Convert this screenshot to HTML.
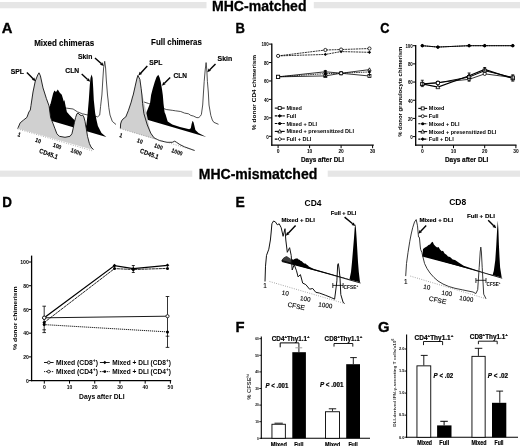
<!DOCTYPE html>
<html><head><meta charset="utf-8"><style>
html,body{margin:0;padding:0;background:#fff;}
body{width:520px;height:446px;overflow:hidden;}
svg{display:block;font-family:"Liberation Sans", sans-serif;filter:grayscale(100%);}
</style></head><body>
<svg width="520" height="446" viewBox="0 0 520 446">
<rect width="520" height="446" fill="#fff"/>
<rect x="0.00" y="2.00" width="206.50" height="6.30" fill="#e6e6e6" stroke="none" stroke-width="1"/>
<rect x="313.80" y="2.00" width="206.20" height="6.30" fill="#e6e6e6" stroke="none" stroke-width="1"/>
<text x="212.00" y="10.60" font-size="14" font-weight="bold" fill="#000" textLength="94.50" lengthAdjust="spacingAndGlyphs" stroke="#000" stroke-width="0.3">MHC-matched</text>
<rect x="0.00" y="170.60" width="192.30" height="6.20" fill="#e6e6e6" stroke="none" stroke-width="1"/>
<rect x="327.70" y="170.60" width="192.30" height="6.20" fill="#e6e6e6" stroke="none" stroke-width="1"/>
<text x="198.70" y="178.50" font-size="14" font-weight="bold" fill="#000" textLength="118.60" lengthAdjust="spacingAndGlyphs" stroke="#000" stroke-width="0.3">MHC-mismatched</text>
<text x="1.80" y="32.80" font-size="14.8" font-weight="bold" fill="#000" stroke="#000" stroke-width="0.35">A</text>
<text x="235.40" y="32.80" font-size="14.8" font-weight="bold" fill="#000" textLength="9.40" lengthAdjust="spacingAndGlyphs" stroke="#000" stroke-width="0.35">B</text>
<text x="380.20" y="32.60" font-size="14.8" font-weight="bold" fill="#000" textLength="9.20" lengthAdjust="spacingAndGlyphs" stroke="#000" stroke-width="0.35">C</text>
<text x="2.20" y="207.40" font-size="14.8" font-weight="bold" fill="#000" textLength="9.70" lengthAdjust="spacingAndGlyphs" stroke="#000" stroke-width="0.35">D</text>
<text x="235.40" y="207.30" font-size="14.8" font-weight="bold" fill="#000" textLength="9.30" lengthAdjust="spacingAndGlyphs" stroke="#000" stroke-width="0.35">E</text>
<text x="235.60" y="331.90" font-size="14.8" font-weight="bold" fill="#000" stroke="#000" stroke-width="0.35">F</text>
<text x="378.00" y="331.60" font-size="14.8" font-weight="bold" fill="#000" stroke="#000" stroke-width="0.35">G</text>
<line x1="271.80" y1="43.60" x2="271.80" y2="145.80" stroke="#000" stroke-width="1.3" />
<line x1="271.20" y1="145.20" x2="373.80" y2="145.20" stroke="#000" stroke-width="1.3" />
<line x1="269.00" y1="136.30" x2="271.80" y2="136.30" stroke="#000" stroke-width="1.0" />
<text x="268.80" y="138.60" font-size="5.4" font-weight="bold" fill="#000" text-anchor="end" textLength="2.50" lengthAdjust="spacingAndGlyphs" >0</text>
<line x1="269.00" y1="117.86" x2="271.80" y2="117.86" stroke="#000" stroke-width="1.0" />
<text x="268.80" y="120.16" font-size="5.4" font-weight="bold" fill="#000" text-anchor="end" textLength="4.90" lengthAdjust="spacingAndGlyphs" >20</text>
<line x1="269.00" y1="99.42" x2="271.80" y2="99.42" stroke="#000" stroke-width="1.0" />
<text x="268.80" y="101.72" font-size="5.4" font-weight="bold" fill="#000" text-anchor="end" textLength="4.90" lengthAdjust="spacingAndGlyphs" >40</text>
<line x1="269.00" y1="80.98" x2="271.80" y2="80.98" stroke="#000" stroke-width="1.0" />
<text x="268.80" y="83.28" font-size="5.4" font-weight="bold" fill="#000" text-anchor="end" textLength="4.90" lengthAdjust="spacingAndGlyphs" >60</text>
<line x1="269.00" y1="62.54" x2="271.80" y2="62.54" stroke="#000" stroke-width="1.0" />
<text x="268.80" y="64.84" font-size="5.4" font-weight="bold" fill="#000" text-anchor="end" textLength="4.90" lengthAdjust="spacingAndGlyphs" >80</text>
<line x1="269.00" y1="44.10" x2="271.80" y2="44.10" stroke="#000" stroke-width="1.0" />
<text x="268.80" y="46.40" font-size="5.4" font-weight="bold" fill="#000" text-anchor="end" textLength="7.40" lengthAdjust="spacingAndGlyphs" >100</text>
<line x1="278.10" y1="145.20" x2="278.10" y2="148.20" stroke="#000" stroke-width="1.0" />
<text x="278.10" y="153.40" font-size="6.0" font-weight="bold" fill="#000" text-anchor="middle" textLength="2.80" lengthAdjust="spacingAndGlyphs" >0</text>
<line x1="309.60" y1="145.20" x2="309.60" y2="148.20" stroke="#000" stroke-width="1.0" />
<text x="309.60" y="153.40" font-size="6.0" font-weight="bold" fill="#000" text-anchor="middle" textLength="5.40" lengthAdjust="spacingAndGlyphs" >10</text>
<line x1="341.10" y1="145.20" x2="341.10" y2="148.20" stroke="#000" stroke-width="1.0" />
<text x="341.10" y="153.40" font-size="6.0" font-weight="bold" fill="#000" text-anchor="middle" textLength="5.40" lengthAdjust="spacingAndGlyphs" >20</text>
<line x1="372.60" y1="145.20" x2="372.60" y2="148.20" stroke="#000" stroke-width="1.0" />
<text x="372.60" y="153.40" font-size="6.0" font-weight="bold" fill="#000" text-anchor="middle" textLength="5.40" lengthAdjust="spacingAndGlyphs" >30</text>
<text x="301.00" y="162.10" font-size="7.2" font-weight="bold" fill="#000" textLength="43.00" lengthAdjust="spacingAndGlyphs" stroke="#000" stroke-width="0.15">Days after DLI</text>
<text x="256.40" y="92.50" font-size="6.0" font-weight="bold" fill="#000" text-anchor="middle" textLength="75.30" lengthAdjust="spacingAndGlyphs" transform="rotate(-90 256.40 92.50)" >% donor CD4 chimerism</text>
<path d="M278.10,55.90 L325.35,54.43 L341.10,51.57 L369.45,52.31" fill="none" stroke="#000" stroke-width="0.8" stroke-dasharray="2,0.7"/>
<path d="M278.10,54.22 L279.78,55.90 L278.10,57.58 L276.42,55.90 Z" fill="#000" stroke="none" stroke-width="1" stroke-linejoin="round" />
<path d="M325.35,52.75 L327.03,54.43 L325.35,56.11 L323.67,54.43 Z" fill="#000" stroke="none" stroke-width="1" stroke-linejoin="round" />
<path d="M341.10,49.89 L342.78,51.57 L341.10,53.25 L339.42,51.57 Z" fill="#000" stroke="none" stroke-width="1" stroke-linejoin="round" />
<path d="M369.45,50.63 L371.13,52.31 L369.45,53.99 L367.77,52.31 Z" fill="#000" stroke="none" stroke-width="1" stroke-linejoin="round" />
<path d="M278.10,55.90 L325.35,50.00 L341.10,49.54 L369.45,48.53" fill="none" stroke="#000" stroke-width="0.8" stroke-dasharray="2,0.7"/>
<circle cx="278.10" cy="55.90" r="1.60" fill="#fff" stroke="#000" stroke-width="0.8"/>
<circle cx="325.35" cy="50.00" r="1.60" fill="#fff" stroke="#000" stroke-width="0.8"/>
<circle cx="341.10" cy="49.54" r="1.60" fill="#fff" stroke="#000" stroke-width="0.8"/>
<circle cx="369.45" cy="48.53" r="1.60" fill="#fff" stroke="#000" stroke-width="0.8"/>
<path d="M278.10,76.83 L325.35,75.91 L341.10,73.24 L369.45,76.00" fill="none" stroke="#000" stroke-width="0.8"/>
<rect x="276.60" y="75.33" width="3.00" height="3.00" fill="#fff" stroke="#000" stroke-width="0.8"/>
<rect x="323.85" y="74.41" width="3.00" height="3.00" fill="#fff" stroke="#000" stroke-width="0.8"/>
<rect x="339.60" y="71.74" width="3.00" height="3.00" fill="#fff" stroke="#000" stroke-width="0.8"/>
<rect x="367.95" y="74.50" width="3.00" height="3.00" fill="#fff" stroke="#000" stroke-width="0.8"/>
<path d="M278.10,76.83 L325.35,71.76 L341.10,73.24 L369.45,69.64" fill="none" stroke="#000" stroke-width="0.8"/>
<path d="M278.10,75.01 L279.78,78.23 L276.42,78.23 Z" fill="#fff" stroke="#000" stroke-width="0.8" stroke-linejoin="round" />
<path d="M325.35,69.94 L327.03,73.16 L323.67,73.16 Z" fill="#fff" stroke="#000" stroke-width="0.8" stroke-linejoin="round" />
<path d="M341.10,71.42 L342.78,74.64 L339.42,74.64 Z" fill="#fff" stroke="#000" stroke-width="0.8" stroke-linejoin="round" />
<path d="M369.45,67.82 L371.13,71.04 L367.77,71.04 Z" fill="#fff" stroke="#000" stroke-width="0.8" stroke-linejoin="round" />
<path d="M278.10,76.83 L325.35,73.60 L341.10,73.24 L369.45,71.94" fill="none" stroke="#000" stroke-width="0.8" stroke-dasharray="1.5,0.8"/>
<circle cx="278.10" cy="76.83" r="1.30" fill="#000"/>
<circle cx="325.35" cy="73.60" r="1.30" fill="#000"/>
<circle cx="341.10" cy="73.24" r="1.30" fill="#000"/>
<circle cx="369.45" cy="71.94" r="1.30" fill="#000"/>
<circle cx="341.10" cy="73.24" r="1.60" fill="#fff" stroke="#000" stroke-width="0.8"/>
<line x1="325.35" y1="70.80" x2="325.35" y2="76.40" stroke="#000" stroke-width="1.2" />
<line x1="323.75" y1="70.80" x2="326.95" y2="70.80" stroke="#000" stroke-width="1.0" />
<line x1="323.75" y1="76.40" x2="326.95" y2="76.40" stroke="#000" stroke-width="1.0" />
<line x1="369.45" y1="70.50" x2="369.45" y2="76.50" stroke="#000" stroke-width="0.9" />
<rect x="276.50" y="75.23" width="3.20" height="3.20" fill="#fff" stroke="#000" stroke-width="0.8"/>
<line x1="274.8" y1="108.10" x2="284.7" y2="108.10" stroke="#000" stroke-width="1.1"/>
<rect x="278.20" y="106.60" width="3.00" height="3.00" fill="#fff" stroke="#000" stroke-width="0.8"/>
<text x="286.40" y="110.10" font-size="5.5" font-weight="bold" fill="#000" >Mixed</text>
<line x1="274.8" y1="115.90" x2="284.7" y2="115.90" stroke="#000" stroke-width="1.1" stroke-dasharray="2.2,0.6"/>
<path d="M279.70,114.10 L281.50,115.90 L279.70,117.70 L277.90,115.90 Z" fill="#000" stroke="none" stroke-width="1" stroke-linejoin="round" />
<text x="286.40" y="117.90" font-size="5.5" font-weight="bold" fill="#000" >Full</text>
<line x1="274.8" y1="123.50" x2="284.7" y2="123.50" stroke="#000" stroke-width="1.1" stroke-dasharray="2.2,0.6"/>
<circle cx="279.70" cy="123.50" r="1.50" fill="#000"/>
<text x="286.40" y="125.50" font-size="5.5" font-weight="bold" fill="#000" >Mixed + DLI</text>
<line x1="274.8" y1="131.40" x2="284.7" y2="131.40" stroke="#000" stroke-width="1.1"/>
<path d="M279.70,129.45 L281.50,132.90 L277.90,132.90 Z" fill="#fff" stroke="#000" stroke-width="0.8" stroke-linejoin="round" />
<text x="286.40" y="133.40" font-size="5.5" font-weight="bold" fill="#000" textLength="67.60" lengthAdjust="spacingAndGlyphs" >Mixed + presensitized DLI</text>
<line x1="274.8" y1="139.10" x2="284.7" y2="139.10" stroke="#000" stroke-width="1.1" stroke-dasharray="2.2,0.6"/>
<path d="M279.70,137.30 L281.50,139.10 L279.70,140.90 L277.90,139.10 Z" fill="#fff" stroke="#000" stroke-width="0.8" stroke-linejoin="round" />
<text x="286.40" y="141.10" font-size="5.5" font-weight="bold" fill="#000" >Full + DLI</text>
<line x1="415.70" y1="45.00" x2="415.70" y2="145.80" stroke="#000" stroke-width="1.3" />
<line x1="415.10" y1="145.20" x2="516.50" y2="145.20" stroke="#000" stroke-width="1.3" />
<line x1="412.90" y1="136.60" x2="415.70" y2="136.60" stroke="#000" stroke-width="1.0" />
<text x="412.80" y="138.90" font-size="5.4" font-weight="bold" fill="#000" text-anchor="end" textLength="2.50" lengthAdjust="spacingAndGlyphs" >0</text>
<line x1="412.90" y1="118.42" x2="415.70" y2="118.42" stroke="#000" stroke-width="1.0" />
<text x="412.80" y="120.72" font-size="5.4" font-weight="bold" fill="#000" text-anchor="end" textLength="4.90" lengthAdjust="spacingAndGlyphs" >20</text>
<line x1="412.90" y1="100.24" x2="415.70" y2="100.24" stroke="#000" stroke-width="1.0" />
<text x="412.80" y="102.54" font-size="5.4" font-weight="bold" fill="#000" text-anchor="end" textLength="4.90" lengthAdjust="spacingAndGlyphs" >40</text>
<line x1="412.90" y1="82.06" x2="415.70" y2="82.06" stroke="#000" stroke-width="1.0" />
<text x="412.80" y="84.36" font-size="5.4" font-weight="bold" fill="#000" text-anchor="end" textLength="4.90" lengthAdjust="spacingAndGlyphs" >60</text>
<line x1="412.90" y1="63.88" x2="415.70" y2="63.88" stroke="#000" stroke-width="1.0" />
<text x="412.80" y="66.18" font-size="5.4" font-weight="bold" fill="#000" text-anchor="end" textLength="4.90" lengthAdjust="spacingAndGlyphs" >80</text>
<line x1="412.90" y1="45.70" x2="415.70" y2="45.70" stroke="#000" stroke-width="1.0" />
<text x="412.80" y="48.00" font-size="5.4" font-weight="bold" fill="#000" text-anchor="end" textLength="7.40" lengthAdjust="spacingAndGlyphs" >100</text>
<line x1="422.30" y1="145.20" x2="422.30" y2="148.20" stroke="#000" stroke-width="1.0" />
<text x="422.30" y="153.40" font-size="6.0" font-weight="bold" fill="#000" text-anchor="middle" textLength="2.80" lengthAdjust="spacingAndGlyphs" >0</text>
<line x1="453.50" y1="145.20" x2="453.50" y2="148.20" stroke="#000" stroke-width="1.0" />
<text x="453.50" y="153.40" font-size="6.0" font-weight="bold" fill="#000" text-anchor="middle" textLength="5.40" lengthAdjust="spacingAndGlyphs" >10</text>
<line x1="484.70" y1="145.20" x2="484.70" y2="148.20" stroke="#000" stroke-width="1.0" />
<text x="484.70" y="153.40" font-size="6.0" font-weight="bold" fill="#000" text-anchor="middle" textLength="5.40" lengthAdjust="spacingAndGlyphs" >20</text>
<line x1="515.90" y1="145.20" x2="515.90" y2="148.20" stroke="#000" stroke-width="1.0" />
<text x="515.90" y="153.40" font-size="6.0" font-weight="bold" fill="#000" text-anchor="middle" textLength="5.40" lengthAdjust="spacingAndGlyphs" >30</text>
<text x="444.90" y="162.00" font-size="7.2" font-weight="bold" fill="#000" textLength="43.40" lengthAdjust="spacingAndGlyphs" stroke="#000" stroke-width="0.15">Days after DLI</text>
<text x="401.90" y="91.80" font-size="6.0" font-weight="bold" fill="#000" text-anchor="middle" textLength="90.00" lengthAdjust="spacingAndGlyphs" transform="rotate(-90 401.90 91.80)" >% donor granulocyte chimerism</text>
<path d="M422.30,45.70 L437.90,47.06 L469.10,45.70 L484.70,45.70 L512.78,45.70" fill="none" stroke="#000" stroke-width="0.9" stroke-dasharray="1.5,0.8"/>
<circle cx="422.30" cy="45.70" r="1.60" fill="#000"/>
<circle cx="437.90" cy="47.06" r="1.60" fill="#000"/>
<circle cx="469.10" cy="45.70" r="1.60" fill="#000"/>
<circle cx="484.70" cy="45.70" r="1.60" fill="#000"/>
<circle cx="512.78" cy="45.70" r="1.60" fill="#000"/>
<path d="M422.30,45.70 L437.90,47.06 L469.10,45.70 L484.70,45.70 L512.78,45.70" fill="none" stroke="#000" stroke-width="0.9"/>
<path d="M422.30,43.78 L424.22,45.70 L422.30,47.62 L420.38,45.70 Z" fill="#000" stroke="none" stroke-width="1" stroke-linejoin="round" />
<path d="M437.90,45.14 L439.82,47.06 L437.90,48.98 L435.98,47.06 Z" fill="#000" stroke="none" stroke-width="1" stroke-linejoin="round" />
<path d="M469.10,43.78 L471.02,45.70 L469.10,47.62 L467.18,45.70 Z" fill="#000" stroke="none" stroke-width="1" stroke-linejoin="round" />
<path d="M484.70,43.78 L486.62,45.70 L484.70,47.62 L482.78,45.70 Z" fill="#000" stroke="none" stroke-width="1" stroke-linejoin="round" />
<path d="M512.78,43.78 L514.70,45.70 L512.78,47.62 L510.86,45.70 Z" fill="#000" stroke="none" stroke-width="1" stroke-linejoin="round" />
<path d="M422.30,83.88 L437.90,82.51 L469.10,79.33 L484.70,73.88 L512.78,77.51" fill="none" stroke="#000" stroke-width="0.8"/>
<circle cx="422.30" cy="83.88" r="1.60" fill="#fff" stroke="#000" stroke-width="0.8"/>
<circle cx="437.90" cy="82.51" r="1.60" fill="#fff" stroke="#000" stroke-width="0.8"/>
<circle cx="469.10" cy="79.33" r="1.60" fill="#fff" stroke="#000" stroke-width="0.8"/>
<circle cx="484.70" cy="73.88" r="1.60" fill="#fff" stroke="#000" stroke-width="0.8"/>
<circle cx="512.78" cy="77.51" r="1.60" fill="#fff" stroke="#000" stroke-width="0.8"/>
<path d="M422.30,83.88 L437.90,87.06 L469.10,75.70 L484.70,69.33 L512.78,78.42" fill="none" stroke="#000" stroke-width="1.2"/>
<path d="M422.30,81.80 L424.22,85.48 L420.38,85.48 Z" fill="#fff" stroke="#000" stroke-width="0.8" stroke-linejoin="round" />
<path d="M437.90,84.98 L439.82,88.66 L435.98,88.66 Z" fill="#fff" stroke="#000" stroke-width="0.8" stroke-linejoin="round" />
<path d="M469.10,73.62 L471.02,77.30 L467.18,77.30 Z" fill="#fff" stroke="#000" stroke-width="0.8" stroke-linejoin="round" />
<path d="M484.70,67.25 L486.62,70.93 L482.78,70.93 Z" fill="#fff" stroke="#000" stroke-width="0.8" stroke-linejoin="round" />
<path d="M512.78,76.34 L514.70,80.02 L510.86,80.02 Z" fill="#fff" stroke="#000" stroke-width="0.8" stroke-linejoin="round" />
<path d="M422.30,83.88 L437.90,82.97 L469.10,77.06 L484.70,70.70 L512.78,77.51" fill="none" stroke="#000" stroke-width="1.0"/>
<rect x="420.70" y="82.28" width="3.20" height="3.20" fill="#fff" stroke="#000" stroke-width="0.8"/>
<rect x="436.30" y="81.37" width="3.20" height="3.20" fill="#fff" stroke="#000" stroke-width="0.8"/>
<rect x="467.50" y="75.46" width="3.20" height="3.20" fill="#fff" stroke="#000" stroke-width="0.8"/>
<rect x="483.10" y="69.10" width="3.20" height="3.20" fill="#fff" stroke="#000" stroke-width="0.8"/>
<rect x="511.18" y="75.91" width="3.20" height="3.20" fill="#fff" stroke="#000" stroke-width="0.8"/>
<line x1="422.30" y1="86.60" x2="422.30" y2="80.24" stroke="#000" stroke-width="0.8" />
<line x1="420.80" y1="86.60" x2="423.80" y2="86.60" stroke="#000" stroke-width="0.8" />
<line x1="420.80" y1="80.24" x2="423.80" y2="80.24" stroke="#000" stroke-width="0.8" />
<line x1="469.10" y1="81.15" x2="469.10" y2="72.97" stroke="#000" stroke-width="0.8" />
<line x1="467.60" y1="81.15" x2="470.60" y2="81.15" stroke="#000" stroke-width="0.8" />
<line x1="467.60" y1="72.97" x2="470.60" y2="72.97" stroke="#000" stroke-width="0.8" />
<line x1="512.78" y1="81.15" x2="512.78" y2="74.79" stroke="#000" stroke-width="0.8" />
<line x1="511.28" y1="81.15" x2="514.28" y2="81.15" stroke="#000" stroke-width="0.8" />
<line x1="511.28" y1="74.79" x2="514.28" y2="74.79" stroke="#000" stroke-width="0.8" />
<line x1="484.70" y1="71.15" x2="484.70" y2="67.52" stroke="#000" stroke-width="0.8" />
<line x1="483.20" y1="71.15" x2="486.20" y2="71.15" stroke="#000" stroke-width="0.8" />
<line x1="483.20" y1="67.52" x2="486.20" y2="67.52" stroke="#000" stroke-width="0.8" />
<line x1="418.3" y1="108.40" x2="427.2" y2="108.40" stroke="#000" stroke-width="1.1"/>
<rect x="421.20" y="106.90" width="3.00" height="3.00" fill="#fff" stroke="#000" stroke-width="0.8"/>
<text x="428.80" y="110.40" font-size="5.5" font-weight="bold" fill="#000" >Mixed</text>
<line x1="418.3" y1="116.20" x2="427.2" y2="116.20" stroke="#000" stroke-width="1.1"/>
<circle cx="422.70" cy="116.20" r="1.50" fill="#fff" stroke="#000" stroke-width="0.8"/>
<text x="428.80" y="118.20" font-size="5.5" font-weight="bold" fill="#000" >Full</text>
<line x1="418.3" y1="123.80" x2="427.2" y2="123.80" stroke="#000" stroke-width="1.1" stroke-dasharray="2.2,0.6"/>
<circle cx="422.70" cy="123.80" r="1.50" fill="#000"/>
<text x="428.80" y="125.80" font-size="5.5" font-weight="bold" fill="#000" >Mixed + DLI</text>
<line x1="418.3" y1="131.60" x2="427.2" y2="131.60" stroke="#000" stroke-width="1.1"/>
<path d="M422.70,129.65 L424.50,133.10 L420.90,133.10 Z" fill="#fff" stroke="#000" stroke-width="0.8" stroke-linejoin="round" />
<text x="428.80" y="133.60" font-size="5.5" font-weight="bold" fill="#000" textLength="67.60" lengthAdjust="spacingAndGlyphs" >Mixed + presensitized DLI</text>
<line x1="418.3" y1="139.10" x2="427.2" y2="139.10" stroke="#000" stroke-width="1.1" stroke-dasharray="2.2,0.6"/>
<path d="M422.70,137.30 L424.50,139.10 L422.70,140.90 L420.90,139.10 Z" fill="#000" stroke="none" stroke-width="1" stroke-linejoin="round" />
<text x="428.80" y="141.10" font-size="5.5" font-weight="bold" fill="#000" >Full + DLI</text>
<line x1="31.60" y1="255.60" x2="31.60" y2="381.20" stroke="#000" stroke-width="1.3" />
<line x1="31.00" y1="380.60" x2="171.20" y2="380.60" stroke="#000" stroke-width="1.3" />
<line x1="28.80" y1="380.60" x2="31.60" y2="380.60" stroke="#000" stroke-width="1.0" />
<text x="28.80" y="382.90" font-size="5.4" font-weight="bold" fill="#000" text-anchor="end" textLength="2.80" lengthAdjust="spacingAndGlyphs" >0</text>
<line x1="28.80" y1="356.88" x2="31.60" y2="356.88" stroke="#000" stroke-width="1.0" />
<text x="28.80" y="359.18" font-size="5.4" font-weight="bold" fill="#000" text-anchor="end" textLength="5.60" lengthAdjust="spacingAndGlyphs" >20</text>
<line x1="28.80" y1="333.16" x2="31.60" y2="333.16" stroke="#000" stroke-width="1.0" />
<text x="28.80" y="335.46" font-size="5.4" font-weight="bold" fill="#000" text-anchor="end" textLength="5.60" lengthAdjust="spacingAndGlyphs" >40</text>
<line x1="28.80" y1="309.44" x2="31.60" y2="309.44" stroke="#000" stroke-width="1.0" />
<text x="28.80" y="311.74" font-size="5.4" font-weight="bold" fill="#000" text-anchor="end" textLength="5.60" lengthAdjust="spacingAndGlyphs" >60</text>
<line x1="28.80" y1="285.72" x2="31.60" y2="285.72" stroke="#000" stroke-width="1.0" />
<text x="28.80" y="288.02" font-size="5.4" font-weight="bold" fill="#000" text-anchor="end" textLength="5.60" lengthAdjust="spacingAndGlyphs" >80</text>
<line x1="28.80" y1="262.00" x2="31.60" y2="262.00" stroke="#000" stroke-width="1.0" />
<text x="28.80" y="264.30" font-size="5.4" font-weight="bold" fill="#000" text-anchor="end" textLength="8.60" lengthAdjust="spacingAndGlyphs" >100</text>
<line x1="44.30" y1="380.60" x2="44.30" y2="383.60" stroke="#000" stroke-width="1.0" />
<text x="44.30" y="389.40" font-size="6.0" font-weight="bold" fill="#000" text-anchor="middle" textLength="2.80" lengthAdjust="spacingAndGlyphs" >0</text>
<line x1="69.52" y1="380.60" x2="69.52" y2="383.60" stroke="#000" stroke-width="1.0" />
<text x="69.52" y="389.40" font-size="6.0" font-weight="bold" fill="#000" text-anchor="middle" textLength="5.60" lengthAdjust="spacingAndGlyphs" >10</text>
<line x1="94.74" y1="380.60" x2="94.74" y2="383.60" stroke="#000" stroke-width="1.0" />
<text x="94.74" y="389.40" font-size="6.0" font-weight="bold" fill="#000" text-anchor="middle" textLength="5.60" lengthAdjust="spacingAndGlyphs" >20</text>
<line x1="119.96" y1="380.60" x2="119.96" y2="383.60" stroke="#000" stroke-width="1.0" />
<text x="119.96" y="389.40" font-size="6.0" font-weight="bold" fill="#000" text-anchor="middle" textLength="5.60" lengthAdjust="spacingAndGlyphs" >30</text>
<line x1="145.18" y1="380.60" x2="145.18" y2="383.60" stroke="#000" stroke-width="1.0" />
<text x="145.18" y="389.40" font-size="6.0" font-weight="bold" fill="#000" text-anchor="middle" textLength="5.60" lengthAdjust="spacingAndGlyphs" >40</text>
<line x1="170.40" y1="380.60" x2="170.40" y2="383.60" stroke="#000" stroke-width="1.0" />
<text x="170.40" y="389.40" font-size="6.0" font-weight="bold" fill="#000" text-anchor="middle" textLength="5.60" lengthAdjust="spacingAndGlyphs" >50</text>
<text x="79.00" y="398.60" font-size="6.3" font-weight="bold" fill="#000" textLength="45.60" lengthAdjust="spacingAndGlyphs" >Days after DLI</text>
<text x="16.80" y="318.20" font-size="6.2" font-weight="bold" fill="#000" text-anchor="middle" textLength="63.70" lengthAdjust="spacingAndGlyphs" transform="rotate(-90 16.80 318.20)" >% donor chimerism</text>
<line x1="44.20" y1="306.20" x2="44.20" y2="332.60" stroke="#000" stroke-width="0.8" />
<line x1="42.40" y1="306.20" x2="46.00" y2="306.20" stroke="#000" stroke-width="0.8" />
<line x1="42.40" y1="332.60" x2="46.00" y2="332.60" stroke="#000" stroke-width="0.8" />
<line x1="42.40" y1="329.80" x2="46.00" y2="329.80" stroke="#000" stroke-width="0.8" />
<line x1="167.50" y1="296.50" x2="167.50" y2="347.40" stroke="#000" stroke-width="0.8" />
<line x1="165.70" y1="296.50" x2="169.30" y2="296.50" stroke="#000" stroke-width="0.8" />
<line x1="165.70" y1="347.40" x2="169.30" y2="347.40" stroke="#000" stroke-width="0.8" />
<line x1="165.70" y1="336.20" x2="169.30" y2="336.20" stroke="#000" stroke-width="0.8" />
<line x1="133.30" y1="265.50" x2="133.30" y2="272.50" stroke="#000" stroke-width="0.8" />
<line x1="131.80" y1="265.50" x2="134.80" y2="265.50" stroke="#000" stroke-width="0.8" />
<line x1="131.80" y1="272.50" x2="134.80" y2="272.50" stroke="#000" stroke-width="0.8" />
<path d="M44.20,317.80 L114.50,265.60 L133.30,268.70 L167.50,265.30" fill="none" stroke="#000" stroke-width="1.3"/>
<path d="M44.20,316.00 L46.00,317.80 L44.20,319.60 L42.40,317.80 Z" fill="#000" stroke="none" stroke-width="1" stroke-linejoin="round" />
<path d="M114.50,263.80 L116.30,265.60 L114.50,267.40 L112.70,265.60 Z" fill="#000" stroke="none" stroke-width="1" stroke-linejoin="round" />
<path d="M133.30,266.90 L135.10,268.70 L133.30,270.50 L131.50,268.70 Z" fill="#000" stroke="none" stroke-width="1" stroke-linejoin="round" />
<path d="M167.50,263.50 L169.30,265.30 L167.50,267.10 L165.70,265.30 Z" fill="#000" stroke="none" stroke-width="1" stroke-linejoin="round" />
<path d="M44.20,322.50 L114.50,268.60 L133.30,269.50 L167.50,268.40" fill="none" stroke="#000" stroke-width="0.85" stroke-dasharray="3,0.5"/>
<circle cx="44.20" cy="322.50" r="1.50" fill="#000"/>
<circle cx="114.50" cy="268.60" r="1.50" fill="#000"/>
<circle cx="133.30" cy="269.50" r="1.50" fill="#000"/>
<circle cx="167.50" cy="268.40" r="1.50" fill="#000"/>
<path d="M44.20,317.80 L167.50,316.20" fill="none" stroke="#000" stroke-width="0.9"/>
<circle cx="44.20" cy="317.80" r="1.60" fill="#fff" stroke="#000" stroke-width="0.8"/>
<circle cx="167.50" cy="316.20" r="1.60" fill="#fff" stroke="#000" stroke-width="0.8"/>
<path d="M44.20,324.60 L167.50,331.90" fill="none" stroke="#000" stroke-width="0.9" stroke-dasharray="1.2,0.8"/>
<circle cx="44.20" cy="324.60" r="1.50" fill="#000"/>
<circle cx="167.50" cy="331.90" r="1.50" fill="#000"/>
<circle cx="44.20" cy="317.80" r="1.70" fill="#fff" stroke="#000" stroke-width="0.8"/>
<line x1="44" y1="362.50" x2="53.6" y2="362.50" stroke="#000" stroke-width="0.9"/>
<circle cx="48.80" cy="362.50" r="1.40" fill="#fff" stroke="#000" stroke-width="0.8"/>
<line x1="44" y1="371.60" x2="53.6" y2="371.60" stroke="#000" stroke-width="0.9" stroke-dasharray="1.2,0.8"/>
<circle cx="48.80" cy="371.60" r="1.40" fill="#fff" stroke="#000" stroke-width="0.8"/>
<line x1="99.9" y1="362.50" x2="109.7" y2="362.50" stroke="#000" stroke-width="0.9"/>
<path d="M104.80,360.82 L106.48,362.50 L104.80,364.18 L103.12,362.50 Z" fill="#000" stroke="none" stroke-width="1" stroke-linejoin="round" />
<line x1="99.9" y1="371.60" x2="109.7" y2="371.60" stroke="#000" stroke-width="0.9" stroke-dasharray="1.5,0.8"/>
<circle cx="104.80" cy="371.60" r="1.40" fill="#000"/>
<text x="55.90" y="364.80" font-size="6.4" font-weight="bold" textLength="42.2" lengthAdjust="spacingAndGlyphs">Mixed (CD8<tspan font-size="4.8" dy="-2.6">+</tspan><tspan dy="2.6">)</tspan></text>
<text x="55.90" y="373.90" font-size="6.4" font-weight="bold" textLength="42.2" lengthAdjust="spacingAndGlyphs">Mixed (CD4<tspan font-size="4.8" dy="-2.6">+</tspan><tspan dy="2.6">)</tspan></text>
<text x="112.20" y="364.80" font-size="6.4" font-weight="bold" textLength="58.8" lengthAdjust="spacingAndGlyphs">Mixed + DLI (CD8<tspan font-size="4.8" dy="-2.6">+</tspan><tspan dy="2.6">)</tspan></text>
<text x="112.20" y="373.90" font-size="6.4" font-weight="bold" textLength="58.8" lengthAdjust="spacingAndGlyphs">Mixed + DLI (CD4<tspan font-size="4.8" dy="-2.6">+</tspan><tspan dy="2.6">)</tspan></text>
<line x1="261.30" y1="336.60" x2="261.30" y2="438.90" stroke="#000" stroke-width="1.1" />
<line x1="260.80" y1="438.30" x2="370.00" y2="438.30" stroke="#000" stroke-width="1.1" />
<line x1="259.30" y1="438.30" x2="261.30" y2="438.30" stroke="#000" stroke-width="0.9" />
<text x="258.90" y="439.60" font-size="3.6" font-weight="bold" fill="#000" text-anchor="end" textLength="1.80" lengthAdjust="spacingAndGlyphs" >0</text>
<line x1="259.30" y1="421.70" x2="261.30" y2="421.70" stroke="#000" stroke-width="0.9" />
<text x="258.90" y="423.00" font-size="3.6" font-weight="bold" fill="#000" text-anchor="end" textLength="3.60" lengthAdjust="spacingAndGlyphs" >10</text>
<line x1="259.30" y1="405.10" x2="261.30" y2="405.10" stroke="#000" stroke-width="0.9" />
<text x="258.90" y="406.40" font-size="3.6" font-weight="bold" fill="#000" text-anchor="end" textLength="3.60" lengthAdjust="spacingAndGlyphs" >20</text>
<line x1="259.30" y1="388.50" x2="261.30" y2="388.50" stroke="#000" stroke-width="0.9" />
<text x="258.90" y="389.80" font-size="3.6" font-weight="bold" fill="#000" text-anchor="end" textLength="3.60" lengthAdjust="spacingAndGlyphs" >30</text>
<line x1="259.30" y1="371.90" x2="261.30" y2="371.90" stroke="#000" stroke-width="0.9" />
<text x="258.90" y="373.20" font-size="3.6" font-weight="bold" fill="#000" text-anchor="end" textLength="3.60" lengthAdjust="spacingAndGlyphs" >40</text>
<line x1="259.30" y1="355.30" x2="261.30" y2="355.30" stroke="#000" stroke-width="0.9" />
<text x="258.90" y="356.60" font-size="3.6" font-weight="bold" fill="#000" text-anchor="end" textLength="3.60" lengthAdjust="spacingAndGlyphs" >50</text>
<line x1="259.30" y1="338.70" x2="261.30" y2="338.70" stroke="#000" stroke-width="0.9" />
<text x="258.90" y="340.00" font-size="3.6" font-weight="bold" fill="#000" text-anchor="end" textLength="3.60" lengthAdjust="spacingAndGlyphs" >60</text>
<rect x="271.95" y="424.25" width="13.40" height="14.05" fill="#fff" stroke="#000" stroke-width="0.9"/>
<line x1="274.50" y1="423.20" x2="282.80" y2="423.20" stroke="#000" stroke-width="0.9" />
<rect x="292.30" y="352.20" width="13.60" height="86.10" fill="#000" stroke="none" stroke-width="1"/>
<line x1="298.90" y1="343.10" x2="298.90" y2="352.20" stroke="#000" stroke-width="0.9" />
<line x1="295.40" y1="347.80" x2="302.20" y2="347.80" stroke="#999" stroke-width="0.9" />
<rect x="325.55" y="411.75" width="13.90" height="26.55" fill="#fff" stroke="#000" stroke-width="0.9"/>
<line x1="332.50" y1="408.80" x2="332.50" y2="411.30" stroke="#000" stroke-width="0.8" />
<line x1="328.80" y1="408.80" x2="336.20" y2="408.80" stroke="#000" stroke-width="0.9" />
<rect x="346.20" y="364.20" width="13.80" height="74.10" fill="#000" stroke="none" stroke-width="1"/>
<line x1="353.30" y1="357.60" x2="353.30" y2="364.20" stroke="#000" stroke-width="0.9" />
<line x1="350.20" y1="357.60" x2="356.80" y2="357.60" stroke="#000" stroke-width="0.9" />
<path d="M280.20,347.30 L280.20,342.90 L298.90,342.90" fill="none" stroke="#000" stroke-width="1.0" stroke-linejoin="round" />
<path d="M334.00,346.60 L334.00,343.50 L352.80,343.50 L352.80,346.60" fill="none" stroke="#000" stroke-width="0.9" stroke-linejoin="round" />
<text x="271.80" y="341.00" font-size="6.3" font-weight="bold" stroke="#000" stroke-width="0.18" textLength="37.7" lengthAdjust="spacingAndGlyphs">CD4<tspan font-size="4.4" dy="-2.6">+</tspan><tspan dy="2.6">Thy1.1</tspan><tspan font-size="4.4" dy="-2.6">+</tspan></text>
<text x="324.60" y="340.70" font-size="6.3" font-weight="bold" stroke="#000" stroke-width="0.18" textLength="37.7" lengthAdjust="spacingAndGlyphs">CD8<tspan font-size="4.4" dy="-2.6">+</tspan><tspan dy="2.6">Thy1.1</tspan><tspan font-size="4.4" dy="-2.6">+</tspan></text>
<text x="265.50" y="387.60" font-size="6.3" font-weight="bold" stroke="#000" stroke-width="0.2" textLength="22.8" lengthAdjust="spacingAndGlyphs"><tspan font-style="italic">P</tspan> &lt; .001</text>
<text x="319.90" y="387.40" font-size="6.3" font-weight="bold" stroke="#000" stroke-width="0.2" textLength="23.5" lengthAdjust="spacingAndGlyphs"><tspan font-style="italic">P</tspan> &lt; .001</text>
<text x="270.80" y="446.60" font-size="6.4" font-weight="bold" fill="#000" textLength="16.10" lengthAdjust="spacingAndGlyphs" stroke="#000" stroke-width="0.2">Mixed</text>
<text x="294.20" y="446.60" font-size="6.4" font-weight="bold" fill="#000" textLength="9.20" lengthAdjust="spacingAndGlyphs" stroke="#000" stroke-width="0.2">Full</text>
<text x="325.10" y="446.60" font-size="6.4" font-weight="bold" fill="#000" textLength="15.20" lengthAdjust="spacingAndGlyphs" stroke="#000" stroke-width="0.2">Mixed</text>
<text x="348.40" y="446.60" font-size="6.4" font-weight="bold" fill="#000" textLength="9.40" lengthAdjust="spacingAndGlyphs" stroke="#000" stroke-width="0.2">Full</text>
<text x="251.0" y="387" font-size="4.8" font-weight="bold" fill="#333" text-anchor="middle" transform="rotate(-90 251.0 387)" textLength="25.6" lengthAdjust="spacingAndGlyphs">% CFSE<tspan font-size="3" dy="-1.6">hi</tspan></text>
<line x1="406.60" y1="334.40" x2="406.60" y2="437.80" stroke="#000" stroke-width="1.1" />
<line x1="406.10" y1="437.30" x2="518.00" y2="437.30" stroke="#000" stroke-width="1.1" />
<line x1="404.60" y1="437.20" x2="406.60" y2="437.20" stroke="#000" stroke-width="0.9" />
<text x="404.40" y="438.50" font-size="3.6" font-weight="bold" fill="#000" text-anchor="end" textLength="5.40" lengthAdjust="spacingAndGlyphs" >0.0</text>
<line x1="404.60" y1="415.15" x2="406.60" y2="415.15" stroke="#000" stroke-width="0.9" />
<text x="404.40" y="416.45" font-size="3.6" font-weight="bold" fill="#000" text-anchor="end" textLength="5.40" lengthAdjust="spacingAndGlyphs" >0.5</text>
<line x1="404.60" y1="393.10" x2="406.60" y2="393.10" stroke="#000" stroke-width="0.9" />
<text x="404.40" y="394.40" font-size="3.6" font-weight="bold" fill="#000" text-anchor="end" textLength="5.40" lengthAdjust="spacingAndGlyphs" >1.0</text>
<line x1="404.60" y1="371.05" x2="406.60" y2="371.05" stroke="#000" stroke-width="0.9" />
<text x="404.40" y="372.35" font-size="3.6" font-weight="bold" fill="#000" text-anchor="end" textLength="5.40" lengthAdjust="spacingAndGlyphs" >1.5</text>
<line x1="404.60" y1="349.00" x2="406.60" y2="349.00" stroke="#000" stroke-width="0.9" />
<text x="404.40" y="350.30" font-size="3.6" font-weight="bold" fill="#000" text-anchor="end" textLength="5.40" lengthAdjust="spacingAndGlyphs" >2.0</text>
<rect x="416.95" y="365.85" width="13.80" height="71.45" fill="#fff" stroke="#000" stroke-width="0.9"/>
<line x1="423.80" y1="355.40" x2="423.80" y2="365.40" stroke="#000" stroke-width="0.9" />
<line x1="420.80" y1="355.40" x2="427.70" y2="355.40" stroke="#000" stroke-width="0.9" />
<rect x="437.10" y="425.40" width="14.40" height="11.90" fill="#000" stroke="none" stroke-width="1"/>
<line x1="444.10" y1="421.30" x2="444.10" y2="425.40" stroke="#000" stroke-width="1.0" />
<line x1="440.30" y1="421.30" x2="447.80" y2="421.30" stroke="#000" stroke-width="1.0" />
<rect x="471.95" y="356.35" width="13.20" height="80.95" fill="#fff" stroke="#000" stroke-width="0.9"/>
<line x1="478.40" y1="348.30" x2="478.40" y2="355.90" stroke="#000" stroke-width="0.9" />
<line x1="474.80" y1="348.30" x2="482.30" y2="348.30" stroke="#000" stroke-width="0.9" />
<rect x="492.00" y="402.80" width="14.30" height="34.50" fill="#000" stroke="none" stroke-width="1"/>
<line x1="499.80" y1="391.10" x2="499.80" y2="402.80" stroke="#000" stroke-width="0.9" />
<line x1="496.30" y1="391.10" x2="503.10" y2="391.10" stroke="#000" stroke-width="0.9" />
<path d="M423.50,345.10 L423.50,341.50 L442.60,341.50 L442.60,345.10" fill="none" stroke="#000" stroke-width="0.9" stroke-linejoin="round" />
<path d="M478.40,344.20 L478.40,341.20 L497.20,341.20 L497.20,344.20" fill="none" stroke="#000" stroke-width="0.9" stroke-linejoin="round" />
<text x="414.60" y="339.50" font-size="6.3" font-weight="bold" stroke="#000" stroke-width="0.18" textLength="38.7" lengthAdjust="spacingAndGlyphs">CD4<tspan font-size="4.4" dy="-2.6">+</tspan><tspan dy="2.6">Thy1.1</tspan><tspan font-size="4.4" dy="-2.6">+</tspan></text>
<text x="469.80" y="338.80" font-size="6.3" font-weight="bold" stroke="#000" stroke-width="0.18" textLength="38.2" lengthAdjust="spacingAndGlyphs">CD8<tspan font-size="4.4" dy="-2.6">+</tspan><tspan dy="2.6">Thy1.1</tspan><tspan font-size="4.4" dy="-2.6">+</tspan></text>
<text x="433.60" y="378.10" font-size="6.3" font-weight="bold" stroke="#000" stroke-width="0.2" textLength="19.7" lengthAdjust="spacingAndGlyphs"><tspan font-style="italic">P</tspan> &lt; .02</text>
<text x="487.70" y="378.10" font-size="6.3" font-weight="bold" stroke="#000" stroke-width="0.2" textLength="20.3" lengthAdjust="spacingAndGlyphs"><tspan font-style="italic">P</tspan> &lt; .02</text>
<text x="417.20" y="445.40" font-size="6.4" font-weight="bold" fill="#000" textLength="14.80" lengthAdjust="spacingAndGlyphs" stroke="#000" stroke-width="0.2">Mixed</text>
<text x="439.30" y="445.40" font-size="6.4" font-weight="bold" fill="#000" textLength="9.90" lengthAdjust="spacingAndGlyphs" stroke="#000" stroke-width="0.2">Full</text>
<text x="471.40" y="445.40" font-size="6.4" font-weight="bold" fill="#000" textLength="15.00" lengthAdjust="spacingAndGlyphs" stroke="#000" stroke-width="0.2">Mixed</text>
<text x="494.60" y="445.40" font-size="6.4" font-weight="bold" fill="#000" textLength="8.90" lengthAdjust="spacingAndGlyphs" stroke="#000" stroke-width="0.2">Full</text>
<text x="395.8" y="382.7" font-size="4.3" font-weight="bold" fill="#333" text-anchor="middle" transform="rotate(-90 395.8 382.7)" textLength="88" lengthAdjust="spacingAndGlyphs">DLI-derived IFN-&#947;-secreting T cells/x10<tspan font-size="3" dy="-1.5">6</tspan></text>
<path d="M50.00,104.50 L58.00,106.30 L66.30,108.10 L73.10,109.00 L77.50,111.90 L82.50,113.80 L86.90,114.80 L92.00,115.80 L95.60,116.30 L97.50,116.90 L99.70,115.10 L100.60,106.30 L101.30,100.00 L101.90,95.00 L102.80,80.00 L103.60,68.00 L104.70,61.30 L105.60,68.00 L106.30,80.00 L107.50,95.00 L108.10,100.00 L108.80,107.50 L110.00,115.00 L112.30,121.40 L116.00,124.50" fill="#fff" stroke="#222" stroke-width="0.8" stroke-linejoin="round" />
<path d="M46.00,106.00 L49.80,106.70 L51.50,100.00 L53.10,93.50 L54.40,90.50 L56.00,92.10 L57.80,89.40 L59.80,92.80 L61.80,94.80 L63.80,101.50 L64.40,100.00 L65.90,107.60 L66.90,111.90 L70.00,115.60 L73.10,118.80 L75.00,120.60 L80.00,124.00 L86.30,125.50 L87.50,115.00 L88.80,100.00 L89.80,85.00 L90.50,78.00 L91.60,74.40 L92.60,78.00 L93.20,88.00 L93.80,100.00 L95.20,113.30 L96.50,120.00 L97.90,125.90 L101.50,133.00 L106.30,136.90 L51.90,121.00 L46.00,119.50 Z" fill="#000" stroke="none" stroke-width="1" stroke-linejoin="round" />
<path d="M17.60,128.50 L18.20,127.50 L20.20,122.80 L23.60,120.00 L26.90,117.40 L28.90,112.00 L30.30,110.00 L31.00,105.40 L33.00,92.00 L35.30,81.00 L37.70,75.00 L39.00,72.80 L40.40,75.80 L43.00,87.90 L46.40,98.60 L49.10,106.00 L50.60,117.50 L53.10,123.80 L55.00,128.80 L56.90,133.80 L59.40,136.30 L65.00,137.30 L70.00,136.30 L71.90,133.80 L73.10,128.80 L74.40,122.50 L75.60,117.50 L76.90,113.80 L78.10,113.10 L80.00,115.00 L81.30,115.60 L82.50,115.00 L83.80,116.90 L85.00,121.30 L86.30,128.80 L87.50,136.30 L89.40,143.50 L91.00,147.00 L93.50,149.60 L93.50,150.10 L17.60,128.50 Z" fill="#d0d0d0" stroke="none" stroke-width="1" stroke-linejoin="round" />
<path d="M17.60,128.50 L18.20,127.50 L20.20,122.80 L23.60,120.00 L26.90,117.40 L28.90,112.00 L30.30,110.00 L31.00,105.40 L33.00,92.00 L35.30,81.00 L37.70,75.00 L39.00,72.80 L40.40,75.80 L43.00,87.90 L46.40,98.60 L49.10,106.00 L50.60,117.50 L53.10,123.80 L55.00,128.80 L56.90,133.80 L59.40,136.30 L65.00,137.30 L70.00,136.30 L71.90,133.80 L73.10,128.80 L74.40,122.50 L75.60,117.50 L76.90,113.80 L78.10,113.10 L80.00,115.00 L81.30,115.60 L82.50,115.00 L83.80,116.90 L85.00,121.30 L86.30,128.80 L87.50,136.30 L89.40,143.50 L91.00,147.00 L93.50,149.60" fill="none" stroke="#111" stroke-width="0.9" stroke-linejoin="round" />
<line x1="17.60" y1="128.90" x2="93.50" y2="151.20" stroke="#777" stroke-width="0.7" stroke-dasharray="0.8,1.6"/>
<text x="18.50" y="136.50" font-size="5.8" font-weight="bold" fill="#000" text-anchor="middle" textLength="2.80" lengthAdjust="spacingAndGlyphs" transform="rotate(20 18.50 136.50)" stroke="#000" stroke-width="0.12">1</text>
<text x="37.50" y="142.60" font-size="5.8" font-weight="bold" fill="#000" text-anchor="middle" textLength="5.80" lengthAdjust="spacingAndGlyphs" transform="rotate(20 37.50 142.60)" stroke="#000" stroke-width="0.12">10</text>
<text x="56.50" y="148.10" font-size="5.8" font-weight="bold" fill="#000" text-anchor="middle" textLength="8.60" lengthAdjust="spacingAndGlyphs" transform="rotate(20 56.50 148.10)" stroke="#000" stroke-width="0.12">100</text>
<text x="75.60" y="153.80" font-size="5.8" font-weight="bold" fill="#000" text-anchor="middle" textLength="11.40" lengthAdjust="spacingAndGlyphs" transform="rotate(20 75.60 153.80)" stroke="#000" stroke-width="0.12">1000</text>
<text x="47.90" y="155.90" font-size="6.4" font-weight="bold" fill="#000" text-anchor="middle" textLength="19.50" lengthAdjust="spacingAndGlyphs" transform="rotate(20 47.90 155.90)" stroke="#000" stroke-width="0.12">CD45.1</text>
<text x="34.20" y="45.90" font-size="8.6" font-weight="bold" fill="#000" textLength="60.00" lengthAdjust="spacingAndGlyphs" stroke="#000" stroke-width="0.12">Mixed chimeras</text>
<text x="10.80" y="73.90" font-size="6.6" font-weight="bold" fill="#000" textLength="13.20" lengthAdjust="spacingAndGlyphs" stroke="#000" stroke-width="0.15">SPL</text>
<text x="65.30" y="73.20" font-size="6.6" font-weight="bold" fill="#000" textLength="13.90" lengthAdjust="spacingAndGlyphs" stroke="#000" stroke-width="0.15">CLN</text>
<text x="78.10" y="58.70" font-size="6.6" font-weight="bold" fill="#000" textLength="14.30" lengthAdjust="spacingAndGlyphs" stroke="#000" stroke-width="0.15">Skin</text>
<line x1="26.90" y1="72.40" x2="33.07" y2="78.64" stroke="#000" stroke-width="1.4" />
<path d="M35.60,81.20 L31.92,79.78 L34.22,77.50 Z" fill="#000" stroke="none" stroke-width="1" stroke-linejoin="round" />
<line x1="81.70" y1="74.10" x2="87.62" y2="79.40" stroke="#000" stroke-width="1.4" />
<path d="M90.30,81.80 L86.54,80.61 L88.70,78.19 Z" fill="#000" stroke="none" stroke-width="1" stroke-linejoin="round" />
<line x1="95.00" y1="57.90" x2="101.15" y2="63.56" stroke="#000" stroke-width="1.4" />
<path d="M103.80,66.00 L100.05,64.75 L102.25,62.37 Z" fill="#000" stroke="none" stroke-width="1" stroke-linejoin="round" />
<path d="M141.50,101.30 L143.30,101.80 L148.60,103.50 L155.00,105.50 L160.00,107.00 L166.20,109.50 L172.80,110.40 L175.40,110.80 L180.70,111.50 L184.60,113.10 L188.50,113.80 L190.80,115.40 L193.30,116.00 L196.90,117.70 L198.80,117.50 L200.30,116.20 L201.40,114.40 L202.70,105.00 L203.50,92.00 L204.20,81.40 L205.20,70.00 L206.10,62.60 L206.80,70.00 L207.40,81.40 L208.30,92.00 L209.00,105.00 L210.80,115.40 L212.30,120.00 L213.80,122.30 L218.50,124.30" fill="#fff" stroke="#222" stroke-width="0.8" stroke-linejoin="round" />
<path d="M143.00,117.00 L145.30,114.90 L147.30,110.20 L150.00,103.50 L151.10,95.00 L152.70,88.80 L154.70,82.10 L156.50,77.00 L158.30,74.70 L159.60,77.50 L160.80,82.10 L162.10,90.00 L162.80,95.00 L163.50,103.50 L164.60,112.30 L165.50,114.20 L167.70,121.50 L172.30,124.60 L180.00,126.90 L189.20,129.20 L190.80,128.30 L191.60,124.00 L192.60,120.80 L193.60,122.50 L194.20,125.00 L195.40,130.00 L198.50,133.10 L206.20,136.90 L143.00,118.50 Z" fill="#000" stroke="none" stroke-width="1" stroke-linejoin="round" />
<path d="M120.40,128.40 L120.60,124.00 L121.50,121.00 L123.10,118.90 L125.80,116.90 L128.50,110.20 L131.20,102.10 L132.50,97.00 L133.20,95.00 L135.20,86.10 L136.80,79.00 L137.90,75.40 L139.90,79.40 L141.20,88.80 L150.70,133.10 L154.00,137.80 L155.50,139.60 L120.40,128.40 Z" fill="#d0d0d0" stroke="none" stroke-width="1" stroke-linejoin="round" />
<path d="M120.40,128.40 L120.60,124.00 L121.50,121.00 L123.10,118.90 L125.80,116.90 L128.50,110.20 L131.20,102.10 L132.50,97.00 L133.20,95.00 L135.20,86.10 L136.80,79.00 L137.90,75.40 L139.90,79.40 L141.20,88.80 L141.90,95.00 L142.60,103.50 L143.90,113.60 L147.30,125.00 L150.70,133.10 L154.00,137.80 L159.40,140.50 L166.90,142.30 L172.30,142.30 L174.70,141.20 L176.50,142.30 L179.90,144.60 L184.60,146.90 L194.60,150.50" fill="none" stroke="#111" stroke-width="0.9" stroke-linejoin="round" />
<line x1="120.40" y1="128.70" x2="194.60" y2="150.40" stroke="#777" stroke-width="0.7" stroke-dasharray="0.8,1.6"/>
<text x="120.20" y="137.30" font-size="5.8" font-weight="bold" fill="#000" text-anchor="middle" textLength="2.80" lengthAdjust="spacingAndGlyphs" transform="rotate(20 120.20 137.30)" stroke="#000" stroke-width="0.12">1</text>
<text x="139.20" y="142.90" font-size="5.8" font-weight="bold" fill="#000" text-anchor="middle" textLength="5.80" lengthAdjust="spacingAndGlyphs" transform="rotate(20 139.20 142.90)" stroke="#000" stroke-width="0.12">10</text>
<text x="157.90" y="148.50" font-size="5.8" font-weight="bold" fill="#000" text-anchor="middle" textLength="8.60" lengthAdjust="spacingAndGlyphs" transform="rotate(20 157.90 148.50)" stroke="#000" stroke-width="0.12">100</text>
<text x="176.40" y="153.90" font-size="5.8" font-weight="bold" fill="#000" text-anchor="middle" textLength="11.40" lengthAdjust="spacingAndGlyphs" transform="rotate(20 176.40 153.90)" stroke="#000" stroke-width="0.12">1000</text>
<text x="148.70" y="155.90" font-size="6.4" font-weight="bold" fill="#000" text-anchor="middle" textLength="19.50" lengthAdjust="spacingAndGlyphs" transform="rotate(20 148.70 155.90)" stroke="#000" stroke-width="0.12">CD45.1</text>
<text x="151.10" y="45.00" font-size="8.6" font-weight="bold" fill="#000" textLength="50.70" lengthAdjust="spacingAndGlyphs" stroke="#000" stroke-width="0.12">Full chimeras</text>
<text x="149.30" y="65.30" font-size="6.6" font-weight="bold" fill="#000" textLength="13.10" lengthAdjust="spacingAndGlyphs" stroke="#000" stroke-width="0.15">SPL</text>
<text x="173.60" y="78.30" font-size="6.6" font-weight="bold" fill="#000" textLength="13.40" lengthAdjust="spacingAndGlyphs" stroke="#000" stroke-width="0.15">CLN</text>
<text x="217.60" y="61.30" font-size="6.6" font-weight="bold" fill="#000" textLength="14.60" lengthAdjust="spacingAndGlyphs" stroke="#000" stroke-width="0.15">Skin</text>
<line x1="147.30" y1="66.00" x2="140.85" y2="72.96" stroke="#000" stroke-width="1.4" />
<path d="M138.40,75.60 L139.66,71.86 L142.04,74.06 Z" fill="#000" stroke="none" stroke-width="1" stroke-linejoin="round" />
<line x1="170.20" y1="77.40" x2="164.45" y2="83.15" stroke="#000" stroke-width="1.4" />
<path d="M161.90,85.70 L163.30,82.01 L165.59,84.30 Z" fill="#000" stroke="none" stroke-width="1" stroke-linejoin="round" />
<line x1="215.50" y1="64.10" x2="209.78" y2="69.69" stroke="#000" stroke-width="1.4" />
<path d="M207.20,72.20 L208.64,68.53 L210.91,70.85 Z" fill="#000" stroke="none" stroke-width="1" stroke-linejoin="round" />
<text x="304.60" y="205.60" font-size="8.8" font-weight="bold" fill="#000" textLength="16.90" lengthAdjust="spacingAndGlyphs" >CD4</text>
<text x="449.20" y="205.20" font-size="8.8" font-weight="bold" fill="#000" textLength="17.00" lengthAdjust="spacingAndGlyphs" >CD8</text>
<path d="M281.90,259.70 L284.00,257.50 L286.50,256.60 L288.80,258.20 L290.00,259.50 L291.00,260.10 L292.30,259.20 L293.40,259.80 L294.50,258.90 L296.00,258.40 L297.60,258.60 L298.50,259.60 L299.50,259.80 L300.50,260.80 L301.80,261.20 L303.00,262.60 L304.20,263.40 L305.50,263.60 L306.50,264.60 L308.00,265.40 L308.80,266.40 L311.80,268.00 L314.00,268.90 L349.50,279.30 L351.00,272.00 L352.00,262.00 L353.00,250.00 L354.00,238.00 L354.70,228.00 L355.30,224.10 L355.90,228.00 L356.60,238.00 L357.30,250.00 L358.00,262.00 L358.80,272.00 L360.00,282.20 L281.90,262.00 Z" fill="#000" stroke="none" stroke-width="1" stroke-linejoin="round" />
<path d="M281.60,260.20 L283.50,258.20 L285.50,256.60 L287.00,256.30 L288.80,257.60 L290.80,258.80 L290.80,263.60 L281.60,261.20 Z" fill="#3c3c3c" stroke="none" stroke-width="1" stroke-linejoin="round" />
<line x1="281.90" y1="260.60" x2="360.50" y2="283.00" stroke="#000" stroke-width="0.9" />
<path d="M265.00,281.50 L265.50,266.20 L266.50,255.40 L268.80,249.20 L270.40,240.00 L271.20,232.00 L271.90,223.80 L273.50,221.00 L275.40,221.90 L277.30,224.80 L279.20,223.80 L281.20,227.70 L283.10,236.30 L285.00,228.70 L285.80,240.00 L287.30,252.30 L289.60,247.70 L291.20,255.40 L292.20,270.00 L294.20,264.60 L296.50,270.80 L298.10,276.90 L300.40,274.60 L302.70,283.10 L305.80,284.60 L309.60,289.20 L312.70,288.50 L315.80,292.30 L319.60,293.10 L325.80,295.40 L331.50,297.70 L334.60,299.20 L336.30,286.00 L336.90,280.80 L337.70,264.60 L338.30,263.60 L339.00,268.00 L340.00,277.70 L340.80,294.60 L343.10,302.30 L344.60,303.50" fill="none" stroke="#111" stroke-width="1.0" stroke-linejoin="round" />
<line x1="269.60" y1="281.50" x2="344.60" y2="303.50" stroke="#666" stroke-width="0.7" stroke-dasharray="0.8,1.5"/>
<text x="265.00" y="288.40" font-size="6.4" font-weight="normal" fill="#000" text-anchor="middle" transform="rotate(0 265.00 288.40)" stroke="#000" stroke-width="0.12">1</text>
<text x="285.00" y="295.30" font-size="6.4" font-weight="normal" fill="#000" text-anchor="middle" transform="rotate(8 285.00 295.30)" stroke="#000" stroke-width="0.12">10</text>
<text x="305.00" y="301.10" font-size="6.4" font-weight="normal" fill="#000" text-anchor="middle" transform="rotate(8 305.00 301.10)" stroke="#000" stroke-width="0.12">100</text>
<text x="325.00" y="307.60" font-size="6.4" font-weight="normal" fill="#000" text-anchor="middle" transform="rotate(8 325.00 307.60)" stroke="#000" stroke-width="0.12">1000</text>
<text x="295.80" y="308.40" font-size="6.6" font-weight="normal" fill="#000" text-anchor="middle" transform="rotate(12 295.80 308.40)" stroke="#000" stroke-width="0.12">CFSE</text>
<line x1="332.80" y1="285.40" x2="343.10" y2="285.40" stroke="#000" stroke-width="0.8" />
<line x1="332.80" y1="283.00" x2="332.80" y2="288.00" stroke="#000" stroke-width="0.8" />
<line x1="343.10" y1="283.00" x2="343.10" y2="288.00" stroke="#000" stroke-width="0.8" />
<text x="343.6" y="288.6" font-size="5.2" font-weight="bold" textLength="14.6" lengthAdjust="spacingAndGlyphs">CFSE<tspan font-size="3.2" dy="-1.8">+</tspan></text>
<text x="281.50" y="221.90" font-size="6.0" font-weight="bold" fill="#000" textLength="33.30" lengthAdjust="spacingAndGlyphs" stroke="#000" stroke-width="0.15">Mixed + DLI</text>
<text x="330.80" y="215.20" font-size="6.0" font-weight="bold" fill="#000" textLength="25.40" lengthAdjust="spacingAndGlyphs" stroke="#000" stroke-width="0.15">Full + DLI</text>
<line x1="295.60" y1="225.40" x2="288.27" y2="233.18" stroke="#000" stroke-width="1.4" />
<path d="M285.80,235.80 L287.09,232.07 L289.45,234.29 Z" fill="#000" stroke="none" stroke-width="1" stroke-linejoin="round" />
<line x1="344.60" y1="217.10" x2="352.62" y2="223.71" stroke="#000" stroke-width="1.4" />
<path d="M355.40,226.00 L351.59,224.96 L353.65,222.46 Z" fill="#000" stroke="none" stroke-width="1" stroke-linejoin="round" />
<path d="M422.60,254.10 L423.00,249.00 L425.00,247.50 L426.90,246.50 L428.50,245.00 L430.00,244.50 L431.50,242.50 L432.70,241.80 L433.90,244.50 L435.50,246.20 L437.10,247.50 L438.50,247.00 L440.00,249.50 L441.80,251.20 L443.00,250.80 L444.60,253.50 L446.50,254.80 L448.00,256.50 L450.00,257.00 L452.70,259.40 L455.00,260.00 L459.00,262.80 L463.70,265.80 L468.00,267.30 L492.40,275.50 L493.80,271.00 L495.30,260.00 L496.30,244.80 L497.10,230.00 L497.80,220.60 L498.40,230.00 L498.90,244.80 L499.50,257.00 L500.10,267.30 L501.00,273.00 L501.70,277.40 L422.20,256.60 Z" fill="#000" stroke="none" stroke-width="1" stroke-linejoin="round" />
<line x1="422.20" y1="255.00" x2="502.20" y2="278.20" stroke="#000" stroke-width="0.9" />
<path d="M405.70,276.10 L406.50,263.50 L408.00,252.50 L409.80,241.20 L411.20,234.00 L412.70,227.70 L414.50,222.00 L416.20,219.60 L417.50,225.80 L418.50,237.00 L419.40,237.30 L420.20,246.00 L420.60,249.40 L421.90,252.50 L423.20,258.00 L424.60,263.60 L427.00,268.50 L430.00,273.00 L434.00,277.50 L438.00,281.00 L443.00,284.00 L448.80,286.50 L455.00,288.30 L462.30,289.80 L468.00,291.00 L473.00,292.00 L475.90,293.60 L477.70,289.70 L479.20,267.30 L480.20,252.00 L480.80,247.10 L481.40,252.00 L482.20,267.30 L483.70,294.20 L486.00,298.70" fill="none" stroke="#222" stroke-width="0.9" stroke-linejoin="round" />
<line x1="410.40" y1="276.10" x2="486.00" y2="298.70" stroke="#666" stroke-width="0.7" stroke-dasharray="0.8,1.5"/>
<text x="405.70" y="283.80" font-size="6.4" font-weight="normal" fill="#000" text-anchor="middle" transform="rotate(0 405.70 283.80)" stroke="#000" stroke-width="0.12">1</text>
<text x="426.40" y="289.30" font-size="6.4" font-weight="normal" fill="#000" text-anchor="middle" transform="rotate(8 426.40 289.30)" stroke="#000" stroke-width="0.12">10</text>
<text x="446.50" y="295.50" font-size="6.4" font-weight="normal" fill="#000" text-anchor="middle" transform="rotate(8 446.50 295.50)" stroke="#000" stroke-width="0.12">100</text>
<text x="466.10" y="301.00" font-size="6.4" font-weight="normal" fill="#000" text-anchor="middle" transform="rotate(8 466.10 301.00)" stroke="#000" stroke-width="0.12">1000</text>
<text x="437.10" y="302.40" font-size="6.6" font-weight="normal" fill="#000" text-anchor="middle" transform="rotate(12 437.10 302.40)" stroke="#000" stroke-width="0.12">CFSE</text>
<line x1="475.90" y1="280.30" x2="486.00" y2="280.30" stroke="#000" stroke-width="0.8" />
<line x1="475.90" y1="278.00" x2="475.90" y2="283.00" stroke="#000" stroke-width="0.8" />
<line x1="486.00" y1="278.00" x2="486.00" y2="283.00" stroke="#000" stroke-width="0.8" />
<text x="486.6" y="285.6" font-size="5.2" font-weight="bold" textLength="13.9" lengthAdjust="spacingAndGlyphs">CFSE<tspan font-size="3.2" dy="-1.8">+</tspan></text>
<text x="419.40" y="222.30" font-size="6.0" font-weight="bold" fill="#000" textLength="33.70" lengthAdjust="spacingAndGlyphs" stroke="#000" stroke-width="0.15">Mixed + DLI</text>
<text x="466.90" y="218.00" font-size="6.0" font-weight="bold" fill="#000" textLength="28.00" lengthAdjust="spacingAndGlyphs" stroke="#000" stroke-width="0.15">Full + DLI</text>
<line x1="426.20" y1="225.40" x2="420.77" y2="231.18" stroke="#000" stroke-width="1.4" />
<path d="M418.30,233.80 L419.59,230.07 L421.95,232.29 Z" fill="#000" stroke="none" stroke-width="1" stroke-linejoin="round" />
<line x1="488.20" y1="220.20" x2="493.67" y2="225.74" stroke="#000" stroke-width="1.4" />
<path d="M496.20,228.30 L492.52,226.88 L494.82,224.60 Z" fill="#000" stroke="none" stroke-width="1" stroke-linejoin="round" />
</svg>
</body></html>
